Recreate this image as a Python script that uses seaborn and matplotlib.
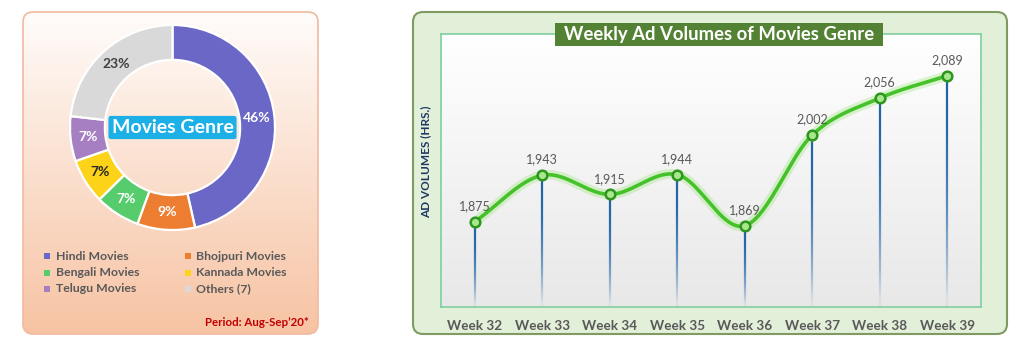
import numpy as np
import matplotlib
matplotlib.use("Agg")
import matplotlib.pyplot as plt
import matplotlib.colors as mcolors
from matplotlib.patches import FancyBboxPatch, Rectangle
from matplotlib.collections import LineCollection
import seaborn as sns

# ---- data -------------------------------------------------------------
genres = ["Hindi Movies", "Bhojpuri Movies", "Bengali Movies",
          "Kannada Movies", "Telugu Movies", "Others (7)"]
shares = [46, 9, 7, 7, 7, 23]
genre_colors = ["#6b67c6", "#ed7d31", "#56cc6c", "#fdd319", "#a67fc3", "#d9d9d9"]
share_text_colors = ["white", "white", "white", "#262626", "white", "#404040"]

weeks = ["Week 32", "Week 33", "Week 34", "Week 35",
         "Week 36", "Week 37", "Week 38", "Week 39"]
volumes = [1875, 1943, 1915, 1944, 1869, 2002, 2056, 2089]
y_range = (1750, 2150)

# ---- style ------------------------------------------------------------
sns.set_theme(style="white")
plt.rcParams["font.family"] = ["Lato", "DejaVu Sans"]

W, H = 1024, 350
fig = plt.figure(figsize=(W / 100, H / 100), dpi=100)
fig.patch.set_facecolor("white")


def fig_rect(x0, y0, x1, y1):
    """Pixel box (top-left origin) -> figure fraction rect."""
    return [x0 / W, 1 - y1 / H, (x1 - x0) / W, (y1 - y0) / H]


def vertical_gradient(ax, extent, c_top, c_bot, clip=None, zorder=0):
    t = np.linspace(0, 1, 256)[:, None, None]
    top = np.array(mcolors.to_rgb(c_top))
    bot = np.array(mcolors.to_rgb(c_bot))
    arr = (1 - t) * top + t * bot
    im = ax.imshow(arr, extent=extent, aspect="auto", origin="upper",
                   interpolation="bicubic", zorder=zorder)
    if clip is not None:
        im.set_clip_path(clip)
    return im


# background canvas in pixel coordinates
bg = fig.add_axes([0, 0, 1, 1])
bg.set_xlim(0, W)
bg.set_ylim(H, 0)
bg.axis("off")

# left card: peach gradient
left_card = FancyBboxPatch((23, 12), 295, 322,
                           boxstyle="round,pad=0,rounding_size=10",
                           fc="none", ec="#f2b9a1", lw=1.2, zorder=2)
bg.add_patch(left_card)
vertical_gradient(bg, (23, 318, 334, 12), "#fffcfa", "#f7c3a3", clip=left_card, zorder=1)

# right card: light green
right_card = FancyBboxPatch((413, 12), 594, 322,
                            boxstyle="round,pad=0,rounding_size=10",
                            fc="#e2efd9", ec="#7f9b62", lw=1.5, zorder=1)
bg.add_patch(right_card)
bg.set_xlim(0, W)
bg.set_ylim(H, 0)

# ---- donut ------------------------------------------------------------
ax_pie = fig.add_axes(fig_rect(70, 25, 275, 230))
wedges, _ = ax_pie.pie(shares, colors=genre_colors, startangle=90,
                       counterclock=False, radius=1,
                       wedgeprops=dict(width=0.34, edgecolor="white", linewidth=1.6))
ax_pie.set_xlim(-1, 1)
ax_pie.set_ylim(-1, 1)
ax_pie.set_aspect("equal")
ax_pie.axis("off")

for w, v, tc in zip(wedges, shares, share_text_colors):
    ang = np.deg2rad((w.theta1 + w.theta2) / 2)
    r = 0.83
    ax_pie.text(r * np.cos(ang), r * np.sin(ang), f"{v}%", ha="center", va="center",
                fontsize=10, fontweight="bold", color=tc)

ax_pie.text(0, 0.0, "Movies Genre", ha="center", va="center", fontsize=14,
            fontweight="bold", color="white",
            bbox=dict(boxstyle="round,pad=0.16,rounding_size=0.12", fc="#1cb0e6", ec="none"))

# legend of genres, two columns
leg_cols_x = [47, 188]
leg_rows_y = [256, 272.5, 289]
for i, (name, col) in enumerate(zip(genres, genre_colors)):
    cx = leg_cols_x[i % 2]
    cy = leg_rows_y[i // 2]
    bg.add_patch(Rectangle((cx - 3, cy - 3), 6, 6, fc=col, ec="none", zorder=3))
    bg.text(cx + 8.5, cy, name, ha="left", va="center", fontsize=8.8,
            fontweight="bold", color="#595959", zorder=3)

bg.text(309, 322, "Period: Aug-Sep\u201920*", ha="right", va="center", fontsize=8.3,
        fontweight="bold", color="#c00000", zorder=3)

# ---- weekly line ------------------------------------------------------
ax = fig.add_axes(fig_rect(441, 34, 981, 307))
x = np.arange(len(weeks))
y = np.array(volumes, dtype=float)

vertical_gradient(ax, (-0.5, len(weeks) - 0.5, y_range[0], y_range[1]),
                  "#ffffff", "#e8e8e8", zorder=0)

# fading drop lines from each point to the floor
for xi, v in zip(x, y):
    ys = np.linspace(v, y_range[0], 60)
    segs = [[(xi, ys[k]), (xi, ys[k + 1])] for k in range(len(ys) - 1)]
    t = np.linspace(0, 1, len(segs))
    alphas = np.clip(1 - t ** 2.2, 0.06, 1)
    base = np.array(mcolors.to_rgb("#1f64a8"))
    cols = [(*base, a) for a in alphas]
    ax.add_collection(LineCollection(segs, colors=cols, linewidths=1.6, zorder=2))

# smoothed curve (cardinal spline through the weekly values)
pts = np.column_stack([x, y])
n = len(pts)
tang = np.zeros_like(pts)
tang[0] = pts[1] - pts[0]
tang[-1] = pts[-1] - pts[-2]
tang[1:-1] = (pts[2:] - pts[:-2]) / 2
curve = []
s = np.linspace(0, 1, 40)[:, None]
for i in range(n - 1):
    p0, p3 = pts[i], pts[i + 1]
    c1, c2 = p0 + tang[i] / 3, p3 - tang[i + 1] / 3
    seg = ((1 - s) ** 3) * p0 + 3 * ((1 - s) ** 2) * s * c1 + 3 * (1 - s) * s ** 2 * c2 + s ** 3 * p3
    curve.append(seg if i == 0 else seg[1:])
curve = np.vstack(curve)

ax.plot(curve[:, 0], curve[:, 1], color="#8be36a", lw=7, alpha=0.3,
        solid_capstyle="round", zorder=3)
ax.plot(curve[:, 0], curve[:, 1], color="#45c22a", lw=2.6,
        solid_capstyle="round", zorder=4)

sns.scatterplot(x=x, y=y, ax=ax, s=48, color="#a6e88a", edgecolor="#2e951f",
                linewidth=1.8, zorder=6, legend=False)

for xi, v in zip(x, volumes):
    ax.annotate(f"{v:,}", (xi, v), xytext=(0, 7), textcoords="offset points",
                ha="center", va="bottom", fontsize=9, color="#595959", zorder=7)

ax.set_xlim(-0.5, len(weeks) - 0.5)
ax.set_ylim(*y_range)
ax.set_xticks(x)
ax.set_xticklabels(weeks, fontsize=9.7, fontweight="bold", color="#595959")
ax.tick_params(axis="x", length=0, pad=9)
ax.set_yticks([])
ax.set_xlabel("")
ax.set_ylabel("")
for sp in ax.spines.values():
    sp.set_color("#7fcfa0")
    sp.set_linewidth(1.2)

fig.text(426 / W, 1 - 162 / H, "AD VOLUMES (HRS.)", rotation=90, ha="center", va="center",
         fontsize=8.5, fontweight="bold", color="#1f3864")

# title plate over the top frame edge
fig.patches.append(Rectangle((555 / W, 1 - 46 / H), (883 - 555) / W, 23 / H,
                             transform=fig.transFigure, fc="#548235", ec="none", zorder=10))
fig.text(719 / W, 1 - 34.5 / H, "Weekly Ad Volumes of Movies Genre", ha="center", va="center",
         fontsize=13.3, fontweight="bold", color="white", zorder=11)

fig.savefig("out.png", dpi=100)
